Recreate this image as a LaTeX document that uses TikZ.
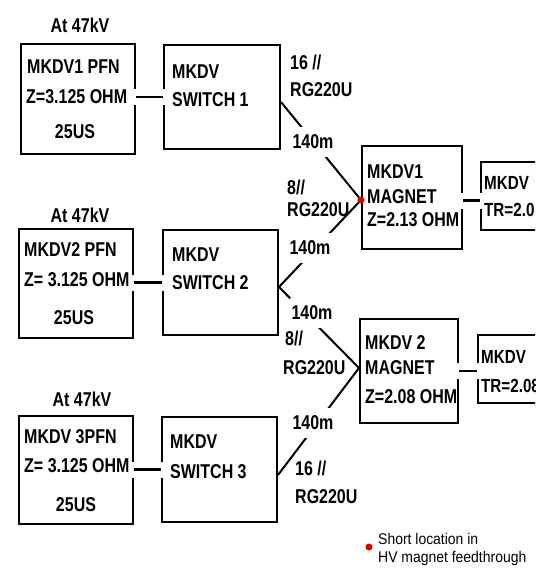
\documentclass[tikz,border=0pt]{standalone}
\usepackage{fontspec}
\newfontfamily\labfont{Liberation Sans}[FakeStretch=0.8]
\newfontfamily\legfont{Liberation Sans}[FakeStretch=0.9]
\usetikzlibrary{calc}
\newcommand\edgegap[1]{\draw[gap] ($(#1)+(0,-8)$) -- ($(#1)+(0,8)$);}
\begin{document}
\begin{tikzpicture}[x=1pt,y=-1pt,
  box/.style={draw,line width=2pt,inner sep=0pt},
  txt/.style={inner sep=0pt,anchor=west,font=\labfont\bfseries\fontsize{20}{22}\selectfont},
  trtxt/.style={txt,font=\labfont\bfseries\fontsize{19}{21}\selectfont},
  ctxt/.style={txt,anchor=center},
  len/.style={ctxt,fill=white,inner xsep=2pt,inner ysep=8pt},
  cable/.style={line width=2pt},
  conn/.style={line width=2.2pt},
  gap/.style={white,line width=3.5pt},
  reddot/.style={circle,fill=red!85!black,minimum size=7pt,inner sep=0pt},
  legtxt/.style={inner sep=0pt,anchor=west,font=\legfont\fontsize{15.5}{17}\selectfont}]
\useasboundingbox (0,0) rectangle (535,575);
\clip (0,0) rectangle (535,575);
\fill[white] (0,0) rectangle (535,575);

% boxes
\node[box,minimum width=114pt,minimum height=110pt] (pfn1) at (78,99) {};
\node[box,minimum width=116pt,minimum height=104pt] (sw1) at (222,97) {};
\node[box,minimum width=114pt,minimum height=109pt] (pfn2) at (76,283.5) {};
\node[box,minimum width=115pt,minimum height=105pt] (sw2) at (220.5,282.5) {};
\node[box,minimum width=114pt,minimum height=108pt] (pfn3) at (76,470) {};
\node[box,minimum width=115pt,minimum height=105pt] (sw3) at (219.5,469.5) {};
\node[box,minimum width=100pt,minimum height=103pt] (m1) at (412,197.5) {};
\node[box,minimum width=98pt,minimum height=104pt] (m2) at (409,371) {};
\node[box,minimum width=94pt,minimum height=68pt] (tr1) at (528,196) {};
\node[box,minimum width=94pt,minimum height=68pt] (tr2) at (525,369) {};

% horizontal connectors with gaps in box edges
\coordinate (c1a) at (pfn1.east |- sw1.west);
\coordinate (c2a) at (pfn2.east |- sw2.west);
\coordinate (c3a) at (pfn3.east |- sw3.west);
\coordinate (m1e) at ([yshift=-3pt]m1.east);
\coordinate (t1w) at (m1e -| tr1.west);
\coordinate (t2w) at (m2.east -| tr2.west);
\edgegap{c1a}\edgegap{sw1.west}
\edgegap{c2a}\edgegap{sw2.west}
\edgegap{c3a}\edgegap{sw3.west}
\edgegap{m1e}\edgegap{t1w}
\edgegap{m2.east}\edgegap{t2w}
\draw[conn] (c1a) -- (sw1.west);
\draw[conn] (c2a) -- (sw2.west);
\draw[conn] (c3a) -- (sw3.west);
\draw[conn] (m1e) -- (t1w);
\draw[conn] (m2.east) -- (t2w);

% cables
\coordinate (short) at ([yshift=-2.5pt]m1.west);
\coordinate (v2) at ([yshift=3pt]m2.west);
\coordinate (s1) at ([yshift=-5pt]sw1.east);
\coordinate (s2) at ([yshift=-4.5pt]sw2.east);
\coordinate (s3) at ([yshift=-5.5pt]sw3.east);
\draw[cable] (s1) -- (short);
\draw[cable] (s2) -- (short);
\draw[cable] (s2) -- (v2);
\draw[cable] (s3) -- (v2);
\node[reddot] (dot) at (short) {};

% cable length labels
\node[len] (l1) at (313,142) {140m};
\node[len] (l2) at (310,248) {140m};
\node[len] (l3) at (312,313) {140m};
\node[len] (l4) at (313,423) {140m};

% cable type labels
\node[txt] (k1a) at (290,62) {16 //};
\node[txt] (k1b) at (290,90) {RG220U};
\node[txt] (k2a) at (287,187) {8//};
\node[txt] (k2b) at (287,210) {RG220U};
\node[txt] (k3a) at (285,338) {8//};
\node[txt] (k3b) at (283,368) {RG220U};
\node[txt] (k4a) at (295,468) {16 //};
\node[txt] (k4b) at (295,497) {RG220U};

% voltage labels
\node[ctxt] (v1) at (80,25) {At 47kV};
\node[ctxt] (v2l) at (80,215) {At 47kV};
\node[ctxt] (v3l) at (82,399) {At 47kV};

% box texts
\node[txt] (p1a) at (27,67) {MKDV1 PFN};
\node[txt] (p1b) at (26,97) {Z=3.125 OHM};
\node[ctxt] (p1c) at (75,132) {25US};
\node[txt] (w1a) at (172,72) {MKDV};
\node[txt] (w1b) at (172,100) {SWITCH 1};

\node[txt] (p2a) at (24,250) {MKDV2 PFN};
\node[txt] (p2b) at (24,280) {Z= 3.125 OHM};
\node[ctxt] (p2c) at (74,318) {25US};
\node[txt] (w2a) at (172,255) {MKDV};
\node[txt] (w2b) at (172,283) {SWITCH 2};

\node[txt] (p3a) at (24,437) {MKDV 3PFN};
\node[txt] (p3b) at (24,466) {Z= 3.125 OHM};
\node[ctxt] (p3c) at (76,505) {25US};
\node[txt] (w3a) at (170,442) {MKDV};
\node[txt] (w3b) at (170,472) {SWITCH 3};

\node[txt] (g1a) at (367,172) {MKDV1};
\node[txt] (g1b) at (367,197) {MAGNET};
\node[txt] (g1c) at (367,220) {Z=2.13 OHM};
\node[txt] (g2a) at (365,343) {MKDV 2};
\node[txt] (g2b) at (365,368) {MAGNET};
\node[txt] (g2c) at (365,397) {Z=2.08 OHM};

\node[trtxt] (t1a) at (484,183) {MKDV};
\node[trtxt] (t1b) at (484,210) {TR=2.0};
\node[trtxt] (t2a) at (481,357) {MKDV};
\node[trtxt] (t2b) at (481,386) {TR=2.08};

% legend
\node[reddot] (legdot) at (369,547) {};
\node[legtxt] (leg1) at (378,539) {Short location in};
\node[legtxt] (leg2) at (378,558) {HV magnet feedthrough};
\end{tikzpicture}
\end{document}
